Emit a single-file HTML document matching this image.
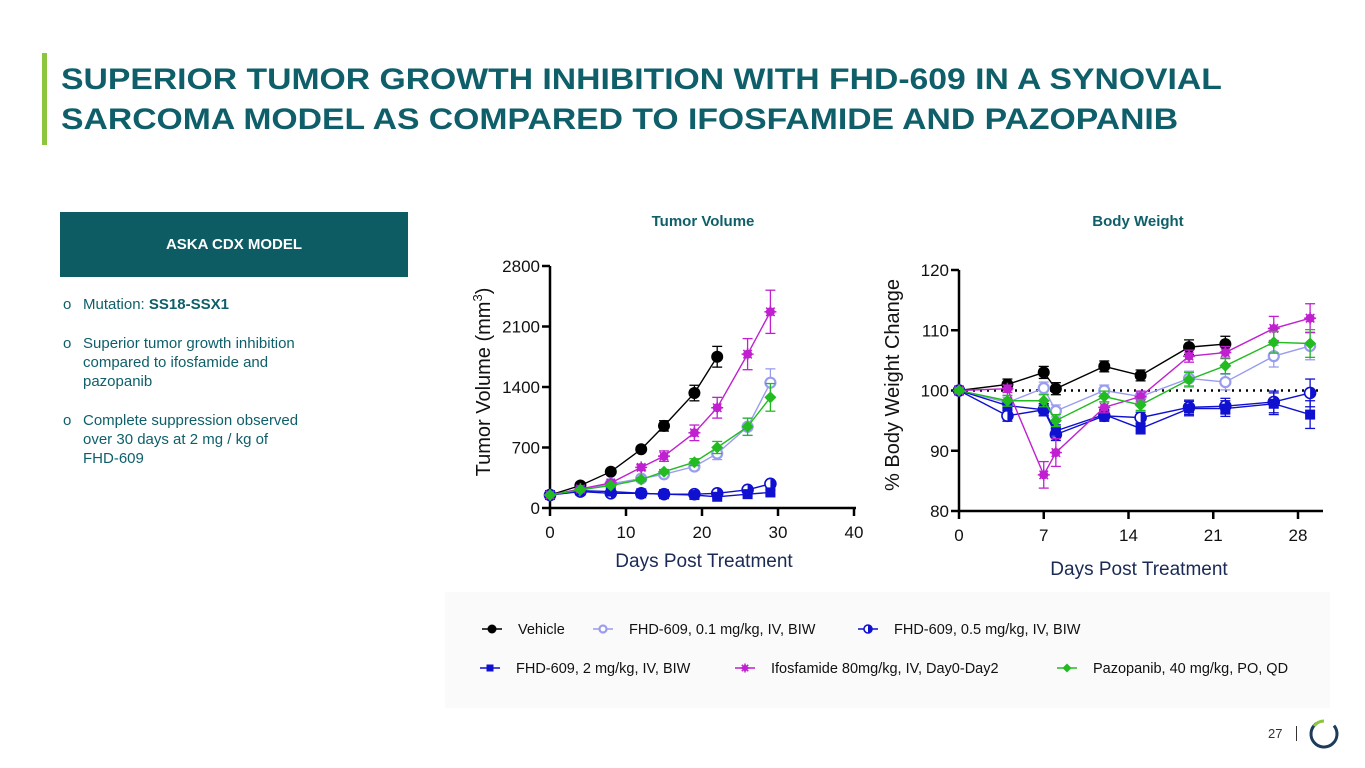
<!DOCTYPE html>
<html><head><meta charset="utf-8">
<style>
body{margin:0;width:1365px;height:768px;background:#fff;font-family:"Liberation Sans",Arial,sans-serif;position:relative;overflow:hidden}
.abs{position:absolute}
</style></head><body>
<div class="abs" style="left:42px;top:53px;width:5px;height:92px;background:#8cc63f"></div>
<div class="abs" style="left:61px;top:60px;font-size:30px;font-weight:bold;color:#0e5f6a;line-height:40px;white-space:nowrap;transform:scaleX(1.124);transform-origin:0 0">SUPERIOR TUMOR GROWTH INHIBITION WITH FHD-609 IN A SYNOVIAL<br>SARCOMA MODEL AS COMPARED TO IFOSFAMIDE AND PAZOPANIB</div>
<div class="abs" style="left:60px;top:212px;width:348px;height:65px;background:#0d5c63;color:#fff;font-weight:bold;font-size:15px;text-align:center;line-height:65px">ASKA CDX MODEL</div>
<div class="abs" style="left:63px;top:295px;width:320px;font-size:15px;color:#0e5f6a;line-height:19px;white-space:nowrap">
<div style="position:relative;padding-left:20px;margin-bottom:20px"><span style="position:absolute;left:0">o</span>Mutation: <b>SS18-SSX1</b></div>
<div style="position:relative;padding-left:20px;margin-bottom:20px"><span style="position:absolute;left:0">o</span>Superior tumor growth inhibition<br>compared to ifosfamide and<br>pazopanib</div>
<div style="position:relative;padding-left:20px"><span style="position:absolute;left:0">o</span>Complete suppression observed<br>over 30 days at 2 mg / kg of<br>FHD-609</div>
</div>
<div class="abs" style="left:445px;top:592px;width:885px;height:116px;background:#fafafa"></div>
<svg id="svg" class="abs" style="left:0;top:0" width="1365" height="768"></svg>
<div class="abs" style="left:1268px;top:726px;font-size:13px;color:#333">27</div>
<div class="abs" style="left:1296px;top:726px;width:1px;height:15px;background:#333"></div>
<svg class="abs" style="left:1308px;top:718px" width="32" height="32">
<circle cx="16" cy="16" r="13" fill="none" stroke="#1d3b5a" stroke-width="3" stroke-dasharray="62 100" transform="rotate(-40 16 16)"/>
<path d="M6 8 A13 13 0 0 1 16 3" fill="none" stroke="#8cc63f" stroke-width="3"/>
</svg>
<script>
const tvDays=[0,4,8,12,15,19,22,26,29];
const tvVehicle=[150,260,420,680,950,1330,1750];
const tvF01=[150,200,280,340,390,480,630,940,1450];
const tvF05=[150,190,170,170,160,160,170,210,280];
const tvF2=[150,200,190,170,160,150,130,160,180];
const tvIfos=[150,220,290,470,600,870,1160,1780,2270];
const tvPazo=[150,210,260,330,420,530,700,940,1280];
const tvErrBig=[10,20,20,30,60,90,120,180,250];
const tvErrMid=[10,15,15,20,25,40,70,100,160];
const tvErrSmall=[5,10,10,10,10,15,15,20,25];
const tvXTicks=[0,10,20,30,40];
const tvYTicks=[0,700,1400,2100,2800];
const bwDays=[0,4,7,8,12,15,19,22,26,29];
const bwVehicle=[100,101,103,100.3,104,102.5,107.2,107.7];
const bwF01=[100,98,100.4,96.6,100,99,102,101.4,105.7,107.4];
const bwF05=[100,95.8,96.8,92.7,95.8,95.5,97.2,97.4,98.1,99.6];
const bwF2=[100,97.5,96.8,93.3,96,93.7,97,97,97.8,96];
const bwIfos=[100,100.3,86,89.7,97.2,99,105.7,106.3,110.3,112];
const bwPazo=[100,98.3,98.3,95,99,97.6,101.8,104.1,108,107.8];
const bwErr=[0.4,0.9,1,1,0.9,0.9,1.2,1.3,1.8,2.3];
const bwErrIfos=[0.4,0.6,2.2,2.3,0.9,0.9,1,1,2,2.4];
const bwXTicks=[0,7,14,21,28];
const bwYTicks=[80,90,100,110,120];
const seriesNames=["Vehicle","FHD-609, 0.1 mg/kg, IV, BIW","FHD-609, 0.5 mg/kg, IV, BIW","FHD-609, 2 mg/kg, IV, BIW","Ifosfamide 80mg/kg, IV, Day0-Day2","Pazopanib, 40 mg/kg, PO, QD"];
const colors=["#000","#9a9cf0","#1010d0","#1010d0","#c020d0","#22bb22"];
const marks=["circle","ring","half","square","star","diamond"];
const NS="http://www.w3.org/2000/svg";
const svg=document.getElementById('svg');
function el(t,a,p){const e=document.createElementNS(NS,t);for(const k in a)e.setAttribute(k,a[k]);(p||svg).appendChild(e);return e;}
function txt(x,y,s,size,fill,anchor,extra){const e=el('text',Object.assign({x:x,y:y,'font-size':size,fill:fill,'text-anchor':anchor||'middle','font-family':'Liberation Sans, Arial, sans-serif'},extra||{}));e.textContent=s;return e;}
function marker(g,type,x,y,c,r){
  if(type==="circle")el('circle',{cx:x,cy:y,r:r,fill:c},g);
  else if(type==="ring")el('circle',{cx:x,cy:y,r:r-1,fill:'#fff',stroke:c,'stroke-width':2.2},g);
  else if(type==="half"){el('circle',{cx:x,cy:y,r:r-0.5,fill:'#fff',stroke:c,'stroke-width':1.6},g);el('path',{d:`M${x} ${y-r+0.5}A${r-0.5} ${r-0.5} 0 0 1 ${x} ${y+r-0.5}Z`,fill:c},g);}
  else if(type==="square")el('rect',{x:x-r+1,y:y-r+1,width:2*r-2,height:2*r-2,fill:c},g);
  else if(type==="star"){el('circle',{cx:x,cy:y,r:r-1.5,fill:c},g);for(let a=0;a<180;a+=45)el('line',{x1:x-r*Math.cos(a*Math.PI/180),y1:y-r*Math.sin(a*Math.PI/180),x2:x+r*Math.cos(a*Math.PI/180),y2:y+r*Math.sin(a*Math.PI/180),stroke:c,'stroke-width':1.5},g);}
  else if(type==="diamond")el('path',{d:`M${x} ${y-r}L${x+r} ${y}L${x} ${y+r}L${x-r} ${y}Z`,fill:c},g);
}
function chart(cfg){
  const sx=v=>cfg.x0+(v-cfg.xmin)/(cfg.xmax-cfg.xmin)*(cfg.x1-cfg.x0);
  const sy=v=>cfg.y0-(v-cfg.ymin)/(cfg.ymax-cfg.ymin)*(cfg.y0-cfg.y1);
  const g=el('g',{});
  
  
  el('line',{x1:cfg.x0,y1:cfg.y1,x2:cfg.x0,y2:cfg.axisY,stroke:'#000','stroke-width':2.5},g);
  el('line',{x1:cfg.x0-1,y1:cfg.axisY,x2:cfg.xEnd,y2:cfg.axisY,stroke:'#000','stroke-width':2.5},g);
  cfg.xticks.forEach(t=>{el('line',{x1:sx(t),y1:cfg.axisY,x2:sx(t),y2:cfg.axisY+8,stroke:'#000','stroke-width':2.5},g);const e=txt(sx(t),cfg.axisY+30,String(t),17,'#111');});
  cfg.yticks.forEach(t=>{el('line',{x1:cfg.x0-8,y1:sy(t),x2:cfg.x0,y2:sy(t),stroke:'#000','stroke-width':2.5},g);const e=txt(cfg.x0-10,sy(t)+6,String(t),17,'#111','end');});
  if(cfg.ref!==undefined)el('line',{x1:cfg.x0,y1:sy(cfg.ref),x2:cfg.xEnd,y2:sy(cfg.ref),stroke:'#000','stroke-width':2.5,'stroke-dasharray':'2 5'},g);
  cfg.series.forEach((s,i)=>{
    const sg=el('g',{},g);
    
    
    const err=cfg.errs[i];
    const pts=s.map((v,j)=>[sx(cfg.days[j]),sy(v)]);
    el('polyline',{points:pts.map(p=>p.join(',')).join(' '),fill:'none',stroke:colors[i],'stroke-width':1.4},sg);
    s.forEach((v,j)=>{const e=err[j];const x=sx(cfg.days[j]);
      el('line',{x1:x,y1:sy(v+e),x2:x,y2:sy(v-e),stroke:colors[i],'stroke-width':1.3},sg);
      el('line',{x1:x-5,y1:sy(v+e),x2:x+5,y2:sy(v+e),stroke:colors[i],'stroke-width':1.3},sg);
      el('line',{x1:x-5,y1:sy(v-e),x2:x+5,y2:sy(v-e),stroke:colors[i],'stroke-width':1.3},sg);});
    pts.forEach(p=>marker(sg,marks[i],p[0],p[1],colors[i],6));
  });
}
chart({name:'tumor-volume-chart',x0:550,x1:854,xEnd:856,xmin:0,xmax:40,y0:508,y1:266,ymin:0,ymax:2800,axisY:508,days:tvDays,errs:[tvErrBig,tvErrMid,tvErrSmall,tvErrSmall,tvErrBig,tvErrMid],xticks:tvXTicks,yticks:tvYTicks,series:[tvVehicle,tvF01,tvF05,tvF2,tvIfos,tvPazo]});
chart({name:'body-weight-chart',x0:959,x1:1298,xEnd:1323,xmin:0,xmax:28,y0:511,y1:270,ymin:80,ymax:120,axisY:511,days:bwDays,errs:[bwErr,bwErr,bwErr,bwErr,bwErrIfos,bwErr],xticks:bwXTicks,yticks:bwYTicks,ref:100,series:[bwVehicle,bwF01,bwF05,bwF2,bwIfos,bwPazo]});
let e;
e=txt(703,226,'Tumor Volume',15,'#0e5f6a','middle',{'font-weight':'bold'});
e=txt(1138,226,'Body Weight',15,'#0e5f6a','middle',{'font-weight':'bold'});
e=txt(704,567,'Days Post Treatment',19,'#1a2a55');
e=txt(1139,575,'Days Post Treatment',19,'#1a2a55');
e=txt(0,0,'',20,'#111','middle',{transform:'translate(490,382) rotate(-90)'});e.innerHTML='Tumor Volume (mm<tspan dy="-8" font-size="13">3</tspan><tspan dy="8">)</tspan>';
e=txt(0,0,'% Body Weight Change',20,'#111','middle',{transform:'translate(899,385) rotate(-90)'});
const legX=[492,603,868,490,745,1067],legY=[629,629,629,668,668,668];
seriesNames.forEach((n,i)=>{const g=el('g',{});
  
  
  el('line',{x1:legX[i]-10,y1:legY[i],x2:legX[i]+10,y2:legY[i],stroke:colors[i],'stroke-width':1.5},g);
  marker(g,marks[i],legX[i],legY[i],colors[i],4.5);
  const t=txt(legX[i]+26,legY[i]+5,n,14.5,'#111','start',{},g);
  
  
});
</script>
</body></html>
